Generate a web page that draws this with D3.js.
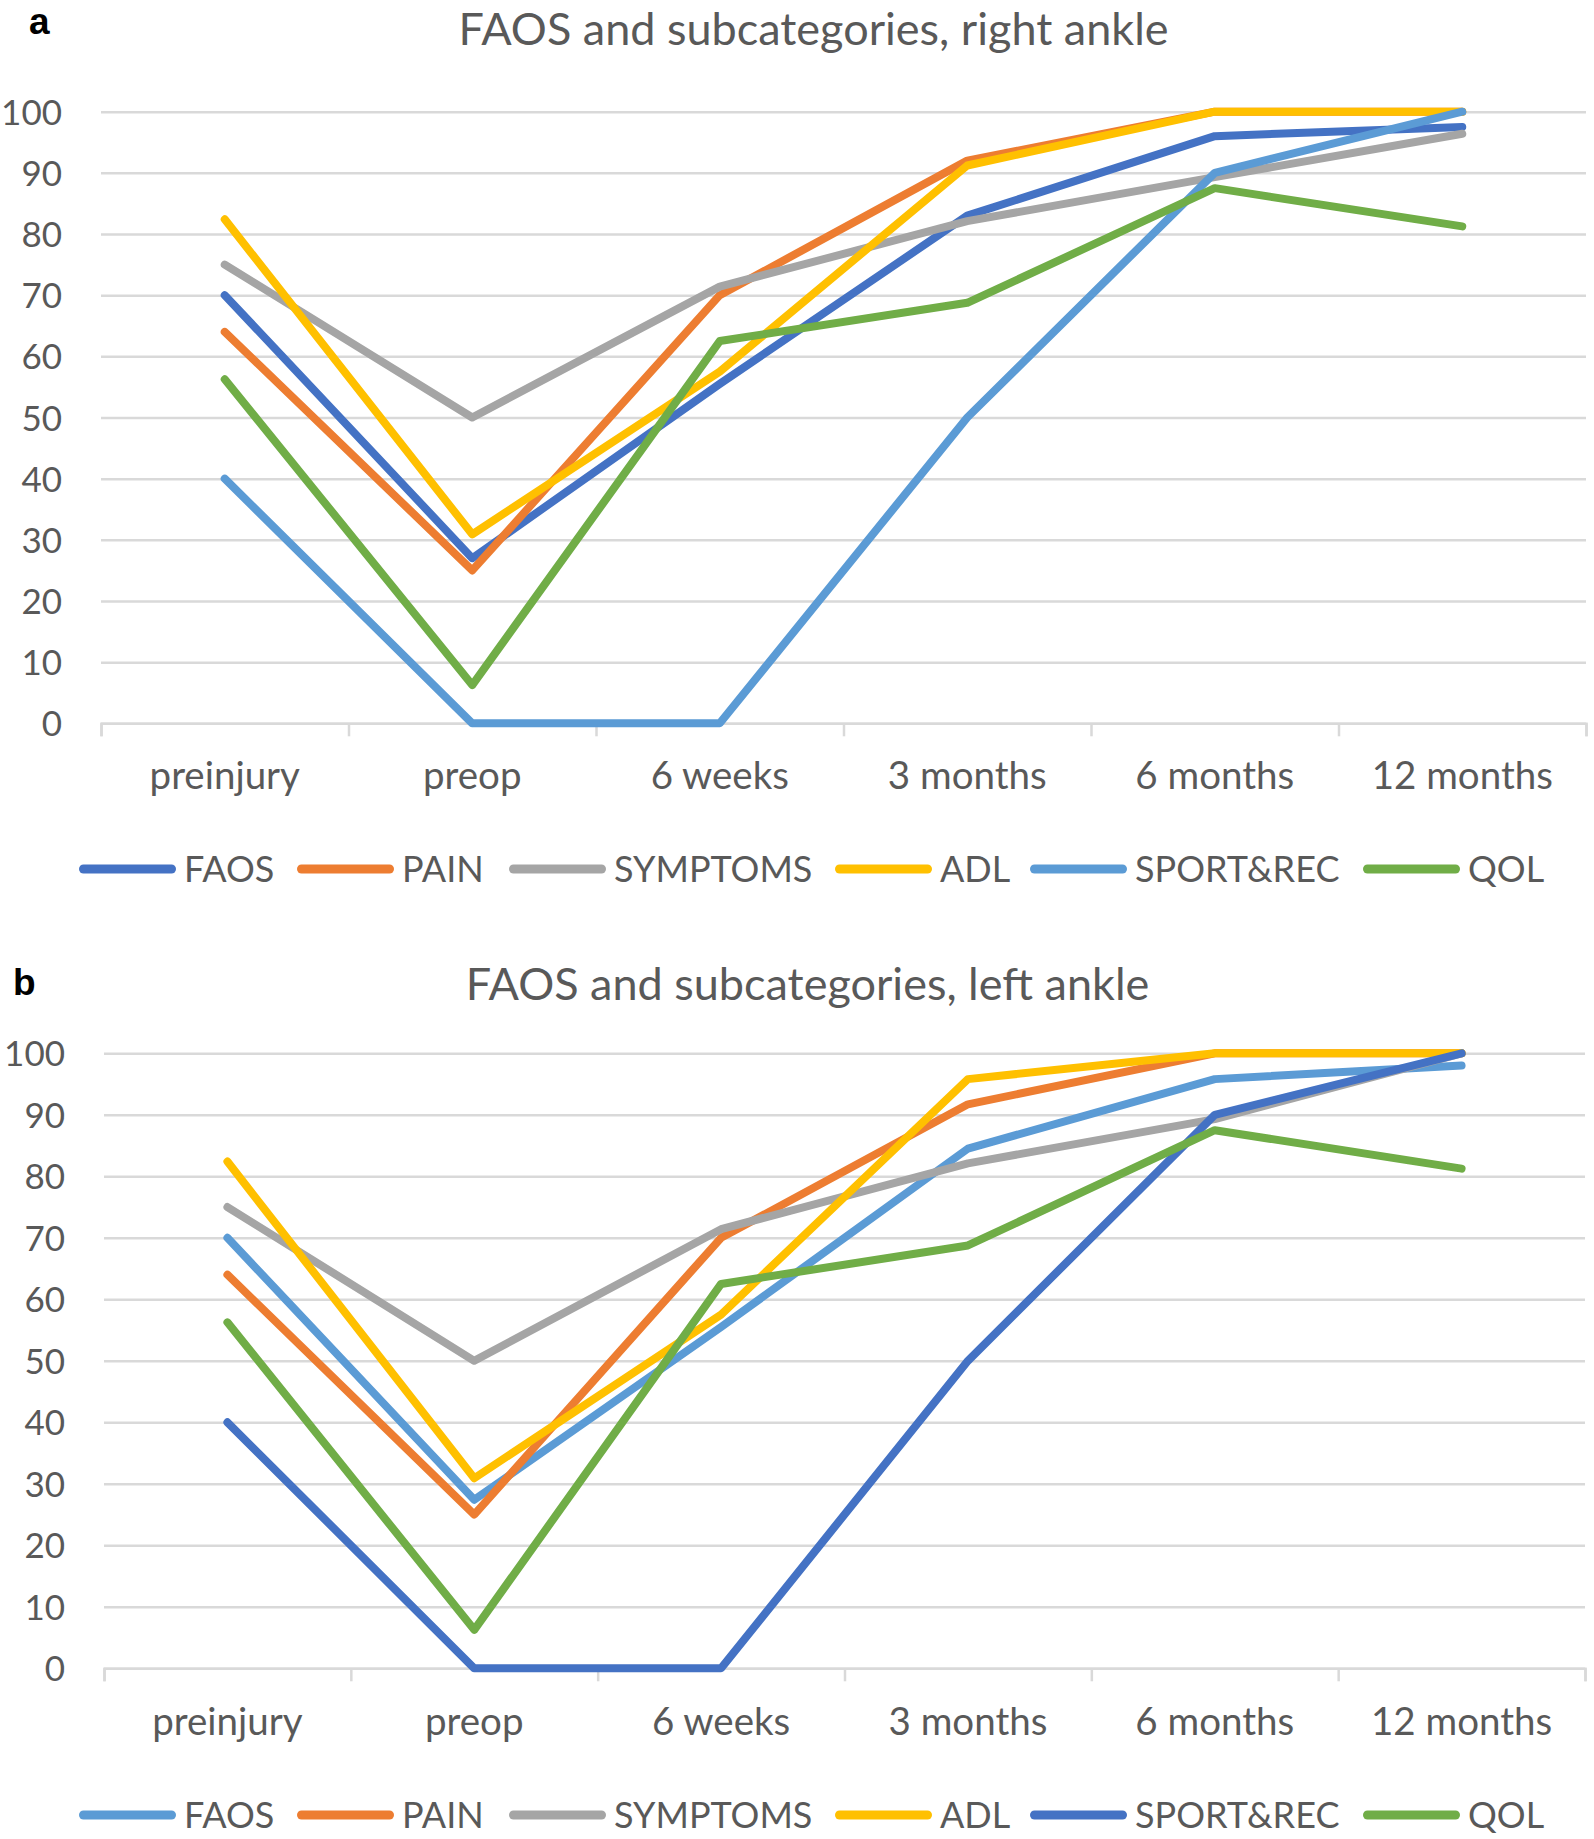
<!DOCTYPE html>
<html><head><meta charset="utf-8">
<script src="https://cdn.jsdelivr.net/npm/d3@7"></script>
<style>
body{margin:0;background:#fff}
svg{display:block;background:#fff}
text{font-family:Lato,"Open Sans",sans-serif;fill:#595959}
</style>
</head><body>
<svg id="chart" width="1594" height="1839"></svg>
<script>
// ---------- data ----------
const categories = ["preinjury", "preop", "6 weeks", "3 months", "6 months", "12 months"];
const seriesNames = ["FAOS", "PAIN", "SYMPTOMS", "ADL", "SPORT&REC", "QOL"];
const yTickValues = [0, 10, 20, 30, 40, 50, 60, 70, 80, 90, 100];

// panel a: right ankle
const rightFAOS     = [70, 27, 55.5, 83, 96, 97.5];
const rightPAIN     = [64, 25, 70, 92, 100, 100];
const rightSYMPTOMS = [75, 50, 71.4, 82.1, 89.3, 96.4];
const rightADL      = [82.4, 30.9, 57.5, 91.2, 100, 100];
const rightSPORT    = [40, 0, 0, 50, 90, 100];
const rightQOL      = [56.25, 6.25, 62.5, 68.75, 87.5, 81.25];

// panel b: left ankle
const leftFAOS     = [70, 27.4, 55.5, 84.5, 95.8, 98];
const leftPAIN     = [64, 25, 70, 91.7, 100, 100];
const leftSYMPTOMS = [75, 50, 71.4, 82.1, 89.3, 100];
const leftADL      = [82.4, 30.9, 57.5, 95.8, 100, 100];
const leftSPORT    = [40, 0, 0, 50, 90, 100];
const leftQOL      = [56.25, 6.25, 62.5, 68.75, 87.5, 81.25];

const rightColors = ["#4472C4", "#ED7D31", "#A5A5A5", "#FFC000", "#5B9BD5", "#70AD47"];
const leftColors  = ["#5B9BD5", "#ED7D31", "#A5A5A5", "#FFC000", "#4472C4", "#70AD47"];

const titles = ["FAOS and subcategories, right ankle", "FAOS and subcategories, left ankle"];
const panelLetters = ["a", "b"];

// ---------- layout ----------
const panels = [
  {series: [rightFAOS, rightPAIN, rightSYMPTOMS, rightADL, rightSPORT, rightQOL], colors: rightColors,
   title: titles[0], letter: panelLetters[0],
   x0: 101, x1: 1586, y0: 723.3, y100: 111.7, yLabelRight: 62,
   titleCx: 813.5, titleY: 45, letterX: 29, letterY: 34,
   xLabelY: 789, legendCy: 869, legendTextY: 882},
  {series: [leftFAOS, leftPAIN, leftSYMPTOMS, leftADL, leftSPORT, leftQOL], colors: leftColors,
   title: titles[1], letter: panelLetters[1],
   x0: 104, x1: 1585, y0: 1668.3, y100: 1053.3, yLabelRight: 65,
   titleCx: 807.5, titleY: 1000, letterX: 13, letterY: 995,
   xLabelY: 1735, legendCy: 1815, legendTextY: 1828}
];
const legendStarts = [79, 297, 509, 835, 1030, 1363];
const legendLineLen = 97;
const legendTextOffset = 105;

const svg = d3.select("#chart");
const gridColor = "#D9D9D9";

panels.forEach(p => {
  const g = svg.append("g");
  const x = d3.scaleBand().domain(categories).range([p.x0, p.x1]).padding(0);
  const y = d3.scaleLinear().domain([0, 100]).range([p.y0, p.y100]);

  // gridlines + y labels
  const yAxis = g.append("g")
    .attr("transform", `translate(${p.x0},0)`)
    .call(d3.axisLeft(y).tickValues(yTickValues).tickSize(-(p.x1 - p.x0)).tickPadding(p.x0 - p.yLabelRight));
  yAxis.select(".domain").remove();
  yAxis.selectAll(".tick line").attr("stroke", gridColor).attr("stroke-width", 2.5);
  yAxis.selectAll(".tick text")
    .style("font-family", "Lato, sans-serif").style("font-size", "35px").attr("fill", "#595959")
    .attr("dy", "0.36em");

  // x axis tick marks at category boundaries
  const xb = d3.scaleLinear().domain([0, categories.length]).range([p.x0, p.x1]);
  const xTicks = g.append("g")
    .attr("transform", `translate(0,${p.y0})`)
    .call(d3.axisBottom(xb).tickValues(d3.range(categories.length + 1)).tickSize(13).tickFormat(""));
  xTicks.select(".domain").attr("stroke", gridColor).attr("stroke-width", 2.5);
  xTicks.selectAll(".tick line").attr("stroke", gridColor).attr("stroke-width", 2.5);

  // x labels
  const xAxis = g.append("g")
    .attr("transform", `translate(0,${p.y0})`)
    .call(d3.axisBottom(x).tickSize(0));
  xAxis.select(".domain").remove();
  xAxis.selectAll(".tick text")
    .style("font-family", "Lato, sans-serif").style("font-size", "38.5px").attr("fill", "#595959")
    .attr("y", p.xLabelY - p.y0).attr("dy", 0);

  // lines
  const line = d3.line()
    .x((d, i) => x(categories[i]) + x.bandwidth() / 2)
    .y(d => y(d));
  p.series.forEach((s, k) => {
    g.append("path")
      .datum(s)
      .attr("d", line)
      .attr("fill", "none")
      .attr("stroke", p.colors[k])
      .attr("stroke-width", 8)
      .attr("stroke-linejoin", "round")
      .attr("stroke-linecap", "round");
  });

  // title
  g.append("text")
    .attr("x", p.titleCx).attr("y", p.titleY)
    .attr("text-anchor", "middle")
    .style("font-size", "45px")
    .text(p.title);

  // panel letter
  g.append("text")
    .attr("x", p.letterX).attr("y", p.letterY)
    .style("font-family", "'Liberation Sans', Arial, sans-serif")
    .style("font-weight", "bold").style("font-size", "37px")
    .attr("fill", "#000").style("fill", "#000")
    .text(p.letter);

  // legend
  const lg = g.append("g");
  seriesNames.forEach((name, k) => {
    const sx = legendStarts[k];
    lg.append("line")
      .attr("x1", sx + 4.5).attr("x2", sx + legendLineLen - 4.5)
      .attr("y1", p.legendCy).attr("y2", p.legendCy)
      .attr("stroke", p.colors[k]).attr("stroke-width", 9).attr("stroke-linecap", "round");
    lg.append("text")
      .attr("x", sx + legendTextOffset).attr("y", p.legendTextY)
      .style("font-size", "36px")
      .text(name);
  });
});
</script>
</body></html>
